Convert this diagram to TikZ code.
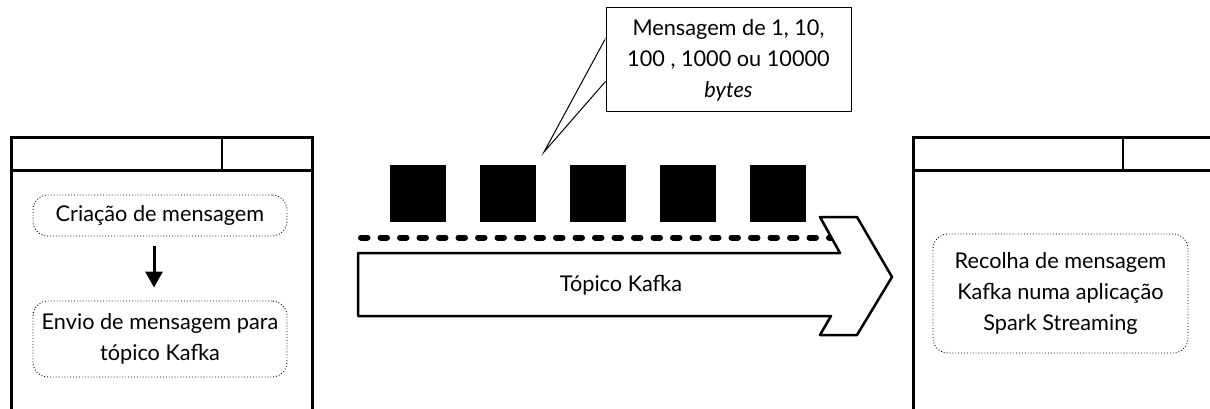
\documentclass[tikz,border=0pt]{standalone}
\usepackage{fontspec}
\setmainfont{Lato}
\usetikzlibrary{calc,arrows.meta}
\begin{document}
\begin{tikzpicture}[x=1pt,y=-1pt,
  txt/.style={font=\fontsize{21.7}{31}\selectfont, align=center, inner sep=0pt},
  stepbox/.style={draw, dotted, line width=0.9pt, rounded corners=15pt, inner sep=0pt},
  frame/.style={line width=3pt, line join=miter},
  divider/.style={line width=2pt},
  msg/.style={fill=black, draw=none, minimum width=56pt, minimum height=57pt, inner sep=0pt},
  flow/.style={-{Triangle[length=16pt,width=17pt]}, line width=3pt}
]
\useasboundingbox (0,0) rectangle (1210,409);
\clip (0,0) rectangle (1210,409);

% producer window
\draw[frame] (11,412) -- (11,138) -- (312,138) -- (312,412);
\draw[frame] (11,170) -- (312,170);
\draw[divider] (222,138) -- (222,170);

% consumer window
\draw[frame] (913,412) -- (913,138) -- (1215,138);
\draw[frame] (913,170) -- (1215,170);
\draw[divider] (1123,138) -- (1123,170);

% producer steps
\node[stepbox, minimum width=254pt, minimum height=41pt] (create) at (160,215.5) {};
\node[txt] at (create) {Criação de mensagem};
\node[stepbox, minimum width=254pt, minimum height=76pt] (send) at (160,339) {};
\node[txt] at (send) {Envio de mensagem para\\tópico Kafka};
\draw[flow] ([xshift=-6pt,yshift=-10pt]create.south) -- ([xshift=-6pt,yshift=13pt]send.north);

% consumer step
\node[stepbox, minimum width=255pt, minimum height=119pt] (recv) at (1060.5,293.5) {};
\node[txt] at (recv) {Recolha de mensagem\\Kafka numa aplicação\\Spark Streaming};

% messages on the topic
\foreach \i in {1,...,5}
  \node[msg] (m\i) at ({418+90*(\i-1)},193.5) {};

% dashed track
\coordinate (d0) at (361,237.5);
\coordinate (d1) at (833,237.5);
\draw[line width=6pt, line cap=round, dash pattern=on 6.5pt off 13pt] (d0) -- (d1);

% topic arrow
\draw[line width=2.5pt, line join=round, fill=white]
  (358,253) -- (840,253) -- (820,217) -- (857,217) -- (892,277)
  -- (857,335) -- (820,335) -- (831,316) -- (358,316) -- cycle;
\node[txt] (topic) at (621,285) {Tópico Kafka};

% size callout
\node[txt, draw, line width=1pt, fill=white, minimum width=245pt, minimum height=104pt] (note) at (728.5,60) {Mensagem de 1, 10,\\100 , 1000 ou 10000\\\textit{bytes}};
\coordinate (tip) at (544,152);
\draw[line width=1pt, fill=white]
  ($(note.north west)+(0,31)$) -- (tip) -- ($(note.north west)+(0,74)$);
\fill[white] ($(note.north west)+(-0.5,32)$) rectangle ($(note.north west)+(0.5,73)$);
\end{tikzpicture}
\end{document}
